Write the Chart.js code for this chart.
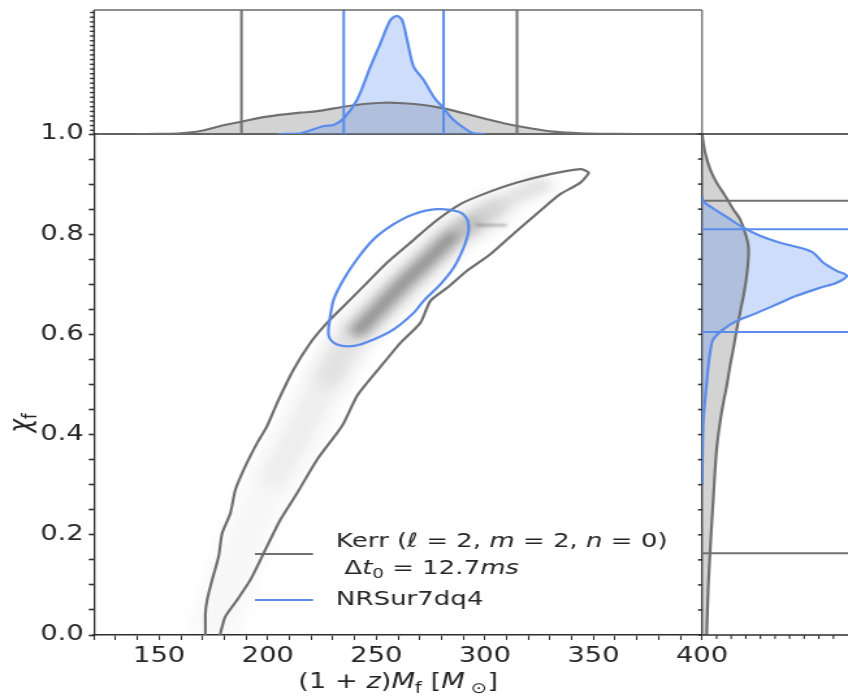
<!DOCTYPE html>
<html>
<head>
<meta charset="utf-8">
<script src="https://cdn.jsdelivr.net/npm/chart.js@4.4.1/dist/chart.umd.min.js"></script>
<style>
  html, body { margin: 0; padding: 0; background: #ffffff; }
  #stage { position: relative; width: 848px; height: 696px; overflow: hidden; background: #ffffff; }
  #stage canvas { position: absolute; left: 0; top: 0; }
</style>
</head>
<body>
<div id="stage">
  <canvas id="mainChart" width="652" height="696" style="width:848px;height:696px"></canvas>
  <canvas id="massChart" width="652" height="696" style="width:848px;height:696px"></canvas>
  <canvas id="spinChart" width="652" height="696" style="width:848px;height:696px"></canvas>
</div>
<script>
// ---------------------------------------------------------------
// Remnant posterior: redshifted final mass (1+z)M_f vs final spin chi_f
// ---------------------------------------------------------------
const massTickLabels = [150, 200, 250, 300, 350, 400];
const spinTickLabels = [0.0, 0.2, 0.4, 0.6, 0.8, 1.0];

// Kerr (l=2, m=2, n=0) credible contour, closed loop
const kerrContourMass = [170.8, 171.3, 171.3, 172.1, 174.4, 177.4, 179.0, 182.8, 185.1, 189.7, 195.1, 199.7, 204.3, 211.9, 219.6, 227.3, 236.5, 245.7, 254.9, 265.7, 276.4, 288.7, 299.4, 314.8, 330.1, 344.0, 347.8, 344.0, 334.7, 325.5, 314.8, 302.5, 291.8, 282.6, 274.9, 270.3, 261.1, 253.4, 245.7, 241.1, 235.0, 231.9, 222.7, 213.5, 205.8, 198.1, 192.0, 185.9, 180.5, 178.2, 177.8];
const kerrContourSpin = [-0.01, 0.003, 0.043, 0.07, 0.11, 0.157, 0.203, 0.243, 0.29, 0.337, 0.383, 0.417, 0.463, 0.53, 0.583, 0.623, 0.663, 0.703, 0.743, 0.783, 0.823, 0.86, 0.88, 0.903, 0.92, 0.93, 0.923, 0.903, 0.88, 0.847, 0.807, 0.76, 0.727, 0.693, 0.667, 0.623, 0.583, 0.543, 0.503, 0.477, 0.423, 0.403, 0.35, 0.283, 0.23, 0.163, 0.11, 0.07, 0.037, 0.003, -0.01];

// NRSur7dq4 credible contour, closed loop
const nrsurContourMass = [228.8, 230.4, 235.0, 241.1, 248.8, 258.0, 267.2, 278.0, 287.9, 291.8, 292.5, 290.2, 285.6, 279.5, 271.8, 267.2, 258.0, 248.8, 239.6, 231.9, 228.1, 228.8];
const nrsurContourSpin = [0.637, 0.67, 0.71, 0.75, 0.79, 0.82, 0.84, 0.85, 0.845, 0.83, 0.807, 0.773, 0.733, 0.70, 0.667, 0.643, 0.61, 0.59, 0.577, 0.58, 0.597, 0.637];

// Ridge of the Kerr 2D density
const kerrRidgeMass = [174.6, 182.0, 190.7, 201.0, 214.0, 226.0, 240.0, 251.0, 262.0, 274.0, 286.0, 297.0, 307.0, 319.0, 330.0];
const kerrRidgeSpin = [0.00, 0.10, 0.20, 0.30, 0.40, 0.50, 0.60, 0.65, 0.70, 0.75, 0.80, 0.83, 0.86, 0.885, 0.905];
const kerrStreakMass = [296.0, 310.0];
const kerrStreakSpin = [0.818, 0.818];

// Marginal densities on (1+z)M_f
const kerrMassGrid = [140, 150, 159.8, 169.0, 178.2, 187.7, 199.7, 215.0, 221.2, 235.0, 244.2, 253.4, 262.6, 271.8, 281.0, 290.2, 301.0, 310.2, 320.9, 331.7, 344.0, 360.8, 380, 400];
const kerrMassDensity = [0, 0.001, 0.006, 0.024, 0.065, 0.099, 0.14, 0.172, 0.18, 0.22, 0.242, 0.252, 0.248, 0.234, 0.207, 0.167, 0.119, 0.081, 0.046, 0.019, 0.006, 0.001, 0, 0];
const nrsurMassGrid = [205, 215.0, 225.8, 230.4, 235.0, 241.1, 247.3, 251.9, 256.5, 259.5, 261.9, 264.2, 267.2, 271.8, 276.4, 281.0, 285.6, 291.8, 294.8, 300];
const nrsurMassDensity = [0, 0.006, 0.065, 0.073, 0.127, 0.274, 0.543, 0.731, 0.919, 0.952, 0.919, 0.758, 0.543, 0.435, 0.301, 0.207, 0.113, 0.032, 0.006, 0];

// Marginal densities on chi_f
const kerrSpinGrid = [1.0, 0.99, 0.963, 0.93, 0.903, 0.877, 0.85, 0.83, 0.803, 0.777, 0.75, 0.717, 0.683, 0.65, 0.61, 0.57, 0.537, 0.497, 0.463, 0.433, 0.37, 0.27, 0.19, 0.097, 0.0];
const kerrSpinDensity = [0, 0.005, 0.021, 0.055, 0.10, 0.158, 0.214, 0.26, 0.295, 0.317, 0.317, 0.306, 0.288, 0.265, 0.238, 0.214, 0.192, 0.169, 0.146, 0.128, 0.10, 0.077, 0.06, 0.043, 0.032];
const nrsurSpinGrid = [0.875, 0.867, 0.86, 0.847, 0.83, 0.813, 0.797, 0.783, 0.773, 0.763, 0.743, 0.727, 0.717, 0.703, 0.693, 0.677, 0.657, 0.64, 0.627, 0.61, 0.59, 0.563, 0.537, 0.503, 0.47, 0.43, 0.38, 0.30];
const nrsurSpinDensity = [0, 0.005, 0.032, 0.10, 0.192, 0.283, 0.397, 0.534, 0.671, 0.762, 0.831, 0.922, 0.991, 0.922, 0.808, 0.648, 0.488, 0.351, 0.238, 0.146, 0.077, 0.055, 0.043, 0.032, 0.021, 0.009, 0.004, 0];

// 90% credible bounds
const kerrMassBounds = [187.9, 314.8];
const nrsurMassBounds = [235.0, 281.0];
const kerrSpinBounds = [0.163, 0.867];
const nrsurSpinBounds = [0.605, 0.81];

// ---------------------------------------------------------------
// Styling
// ---------------------------------------------------------------
const SX = 848 / 652;                 // canvases are drawn 652 wide and shown 848 wide
const cx = v => v / SX;               // page px -> canvas px (horizontal)
const FONT = "'DejaVu Sans', 'Liberation Sans', sans-serif";
const TEXT = '#262626';
const AXIS = '#2e2e2e';
const GRAY = '#707070';
const BLUE = '#5b8ceb';
const GRAY_FILL = 'rgba(110,110,110,0.30)';
const BLUE_FILL = 'rgba(100,150,240,0.32)';
const FS = 21;
const LEGEND_FS = 20;

const pts = (xs, ys) => xs.map((x, i) => ({ x, y: ys[i] }));
const ridge = (lo, hi) => pts(kerrRidgeMass, kerrRidgeSpin).filter(p => p.y >= lo - 1e-9 && p.y <= hi + 1e-9);
const vLine = v => [{ x: v, y: 0 }, { x: v, y: 1 }];
const hLine = v => [{ x: 0, y: v }, { x: 1, y: v }];

function seg(ctx, x1, y1, x2, y2) { ctx.beginPath(); ctx.moveTo(x1, y1); ctx.lineTo(x2, y2); ctx.stroke(); }

// text with italic / subscript runs
function drawRuns(ctx, runs, x, y, size, align) {
  const fontFor = st => `${st.includes('i') ? 'italic ' : ''}${st.includes('s') ? Math.round(size * 0.7) : size}px ${FONT}`;
  let total = 0;
  const widths = runs.map(([t, st]) => { ctx.font = fontFor(st); const w = ctx.measureText(t).width; total += w; return w; });
  let px = align === 'center' ? x - total / 2 : x;
  runs.forEach(([t, st], i) => {
    ctx.font = fontFor(st);
    ctx.fillText(t, px, y + (st.includes('s') ? size * 0.22 : 0));
    px += widths[i];
  });
}

// soft shading for the density layers
const softDensity = {
  id: 'softDensity',
  beforeDatasetDraw(chart, args) {
    const ds = chart.data.datasets[args.index];
    if (ds.blur) { chart.ctx.save(); chart.ctx.filter = `blur(${ds.blur}px)`; }
  },
  afterDatasetDraw(chart, args) {
    const ds = chart.data.datasets[args.index];
    if (ds.blur) chart.ctx.restore();
  }
};

function band(lo, hi, width, alpha, blur) {
  return {
    data: ridge(lo, hi), borderColor: `rgba(30,30,30,${alpha})`, borderWidth: width,
    borderCapStyle: 'butt', borderJoinStyle: 'round', pointRadius: 0, tension: 0.4,
    fill: false, clip: 0, blur: blur || 6, order: 10
  };
}

const baseOptions = {
  responsive: false, animation: false, events: [],
  plugins: { legend: { display: false }, tooltip: { enabled: false }, filler: { drawTime: 'beforeDatasetsDraw' } }
};

// ---------------------------------------------------------------
// Joint panel
// ---------------------------------------------------------------
const massMinor = []; for (let v = 120; v <= 400; v += 10) massMinor.push(v);
const spinMinor = []; for (let i = 0; i <= 20; i++) spinMinor.push(Math.round(i * 5) / 100);

const mainDecor = {
  id: 'mainDecor',
  beforeDraw(chart) {
    const c = chart.ctx; c.save(); c.fillStyle = '#ffffff'; c.fillRect(0, 0, chart.width, chart.height); c.restore();
  },
  afterDraw(chart) {
    const { ctx, chartArea: a } = chart;
    ctx.save();
    ctx.strokeStyle = AXIS;
    ctx.lineWidth = 1.6; seg(ctx, a.left, a.top, a.right, a.top);
    ctx.lineWidth = 1.3; seg(ctx, a.right, a.top, a.right, a.bottom);

    ctx.fillStyle = TEXT; ctx.textBaseline = 'alphabetic';
    drawRuns(ctx, [['(1 + ', 'n'], ['z', 'i'], [')', 'n'], ['M', 'i'], ['f', 's'], [' [', 'n'], ['M', 'i'], [' \u2299', 's'], [']', 'n']],
      (a.left + a.right) / 2, 688, FS, 'center');

    ctx.save();
    ctx.translate(cx(30), 423);
    ctx.rotate(-Math.PI / 2);
    drawRuns(ctx, [['\u03c7', 'i'], ['f', 's']], 0, 0, FS + 2, 'center');
    ctx.restore();

    // legend
    const k = chart.data.datasets[1], n = chart.data.datasets[0];
    ctx.lineWidth = 2;
    ctx.strokeStyle = k.borderColor; seg(ctx, cx(255), 554, cx(313), 554);
    ctx.strokeStyle = n.borderColor; seg(ctx, cx(255), 600, cx(313), 600);
    const tx = cx(336);
    drawRuns(ctx, [['Kerr (', 'n'], ['\u2113', 'i'], [' = 2, ', 'n'], ['m', 'i'], [' = 2, ', 'n'], ['n', 'i'], [' = 0)', 'n']], tx, 547, LEGEND_FS, 'left');
    drawRuns(ctx, [[' \u0394', 'n'], ['t', 'i'], ['0', 's'], [' = 12.7', 'n'], ['ms', 'i']], tx, 574, LEGEND_FS, 'left');
    drawRuns(ctx, [['NRSur7dq4', 'n']], tx, 605, LEGEND_FS, 'left');
    ctx.restore();
  }
};

new Chart(document.getElementById('mainChart'), {
  type: 'line',
  data: {
    datasets: [
      { label: 'NRSur7dq4', data: pts(nrsurContourMass, nrsurContourSpin), borderColor: BLUE, borderWidth: 2.2, pointRadius: 0, tension: 0.35, fill: false, clip: 0, order: 0 },
      { label: 'Kerr', data: pts(kerrContourMass, kerrContourSpin), borderColor: GRAY, borderWidth: 2.2, pointRadius: 0, tension: 0.2, fill: false, clip: 0, order: 1 },
      { data: pts(kerrStreakMass, kerrStreakSpin), borderColor: 'rgba(60,60,60,0.3)', borderWidth: 3, pointRadius: 0, fill: false, clip: 0, blur: 1, order: 2 },
      band(0.0, 0.86, 34, 0.035, 7),
      band(0.3, 0.905, 20, 0.05, 7),
      band(0.45, 0.86, 24, 0.06, 7),
      band(0.78, 0.905, 14, 0.09, 5),
      band(0.55, 0.83, 18, 0.12, 6),
      band(0.6, 0.8, 12, 0.22, 5),
      band(0.6, 0.8, 6, 0.22, 4)
    ]
  },
  options: {
    ...baseOptions,
    layout: { autoPadding: false, padding: { left: 0, top: 134, right: 652 - cx(702), bottom: 0 } },
    scales: {
      x: {
        type: 'linear', min: 120, max: 400,
        afterFit: s => { s.height = 61; },
        afterBuildTicks: s => { s.ticks = massMinor.map(v => ({ value: v })); },
        ticks: { autoSkip: false, maxRotation: 0, minRotation: 0, padding: 4, color: TEXT, font: { family: FONT, size: FS },
                 callback: v => massTickLabels.includes(v) ? String(v) : '' },
        grid: { drawOnChartArea: false, drawTicks: true, tickLength: 5, tickColor: AXIS, tickWidth: 1.1 },
        border: { display: true, color: AXIS, width: 1.6 }
      },
      y: {
        type: 'linear', min: 0, max: 1,
        afterFit: s => { s.width = cx(94); },
        afterBuildTicks: s => { s.ticks = spinMinor.map(v => ({ value: v })); },
        ticks: { autoSkip: false, padding: 4, color: TEXT, font: { family: FONT, size: FS },
                 callback: v => spinTickLabels.some(t => Math.abs(t - v) < 1e-9) ? v.toFixed(1) : '' },
        grid: { drawOnChartArea: false, drawTicks: true, tickLength: 4, tickColor: AXIS, tickWidth: 1.6 },
        border: { display: true, color: AXIS, width: 1.3 }
      }
    }
  },
  plugins: [softDensity, mainDecor]
});

// ---------------------------------------------------------------
// Mass marginal (top)
// ---------------------------------------------------------------
const massDecor = {
  id: 'massDecor',
  afterDraw(chart) {
    const { ctx, chartArea: a, scales: { y } } = chart;
    ctx.save();
    ctx.strokeStyle = '#6a6a6a'; ctx.lineWidth = 1.5;
    seg(ctx, a.left, a.top, a.right, a.top);
    ctx.lineWidth = 1.3; seg(ctx, a.right, a.top, a.right, a.bottom);
    ctx.strokeStyle = AXIS; seg(ctx, a.left, a.top, a.left, a.bottom);
    ctx.lineWidth = 1.4;
    for (let i = 0; i < 26; i++) {
      const py = y.getPixelForValue(0.03 + i * 0.038);
      seg(ctx, a.left - cx(4), py, a.left, py);
    }
    ctx.restore();
  }
};

new Chart(document.getElementById('massChart'), {
  type: 'line',
  data: {
    datasets: [
      { data: pts(nrsurMassGrid, nrsurMassDensity), borderColor: BLUE, backgroundColor: BLUE_FILL, fill: 'origin', borderWidth: 2.2, pointRadius: 0, tension: 0.3, order: 0 },
      { data: vLine(nrsurMassBounds[0]), borderColor: BLUE, borderWidth: 2, pointRadius: 0, fill: false, order: 0 },
      { data: vLine(nrsurMassBounds[1]), borderColor: BLUE, borderWidth: 2, pointRadius: 0, fill: false, order: 0 },
      { data: pts(kerrMassGrid, kerrMassDensity), borderColor: GRAY, backgroundColor: GRAY_FILL, fill: 'origin', borderWidth: 2.2, pointRadius: 0, tension: 0.35, order: 1 },
      { data: vLine(kerrMassBounds[0]), borderColor: GRAY, borderWidth: 2, pointRadius: 0, fill: false, order: 1 },
      { data: vLine(kerrMassBounds[1]), borderColor: GRAY, borderWidth: 2, pointRadius: 0, fill: false, order: 1 }
    ]
  },
  options: {
    ...baseOptions,
    layout: { autoPadding: false, padding: { left: cx(94), top: 10, right: 652 - cx(702), bottom: 696 - 134 } },
    scales: {
      x: { type: 'linear', min: 120, max: 400, display: false },
      y: { type: 'linear', min: 0, max: 1, display: false }
    }
  },
  plugins: [massDecor]
});

// ---------------------------------------------------------------
// Spin marginal (right)
// ---------------------------------------------------------------
const spinDecor = {
  id: 'spinDecor',
  afterDraw(chart) {
    const { ctx, chartArea: a, scales: { x, y } } = chart;
    ctx.save();
    ctx.strokeStyle = AXIS; ctx.lineWidth = 1.6;
    seg(ctx, a.left, a.top, a.right, a.top);
    seg(ctx, a.left, a.bottom, a.right, a.bottom);
    ctx.lineWidth = 1.6;
    spinMinor.forEach(v => { const py = y.getPixelForValue(v); seg(ctx, a.left - cx(4), py, a.left, py); });
    ctx.lineWidth = 1.1;
    for (let i = 1; i <= 9; i++) { const px = x.getPixelForValue(i * 0.1); seg(ctx, px, a.bottom, px, a.bottom + 4); }
    ctx.restore();
  }
};

new Chart(document.getElementById('spinChart'), {
  type: 'line',
  data: {
    datasets: [
      { data: pts(nrsurSpinDensity, nrsurSpinGrid), borderColor: BLUE, backgroundColor: BLUE_FILL, fill: 'origin', borderWidth: 2.2, pointRadius: 0, tension: 0.3, order: 0 },
      { data: hLine(nrsurSpinBounds[0]), borderColor: BLUE, borderWidth: 2, pointRadius: 0, fill: false, order: 0 },
      { data: hLine(nrsurSpinBounds[1]), borderColor: BLUE, borderWidth: 2, pointRadius: 0, fill: false, order: 0 },
      { data: pts(kerrSpinDensity, kerrSpinGrid), borderColor: GRAY, backgroundColor: GRAY_FILL, fill: 'origin', borderWidth: 2.2, pointRadius: 0, tension: 0.35, order: 1 },
      { data: hLine(kerrSpinBounds[0]), borderColor: GRAY, borderWidth: 2, pointRadius: 0, fill: false, order: 1 },
      { data: hLine(kerrSpinBounds[1]), borderColor: GRAY, borderWidth: 2, pointRadius: 0, fill: false, order: 1 }
    ]
  },
  options: {
    ...baseOptions,
    indexAxis: 'y',
    layout: { autoPadding: false, padding: { left: cx(702), top: 134, right: 0, bottom: 61 } },
    scales: {
      x: { type: 'linear', min: 0, max: 1, display: false },
      y: { type: 'linear', min: 0, max: 1, display: false }
    }
  },
  plugins: [spinDecor]
});
</script>
</body>
</html>
